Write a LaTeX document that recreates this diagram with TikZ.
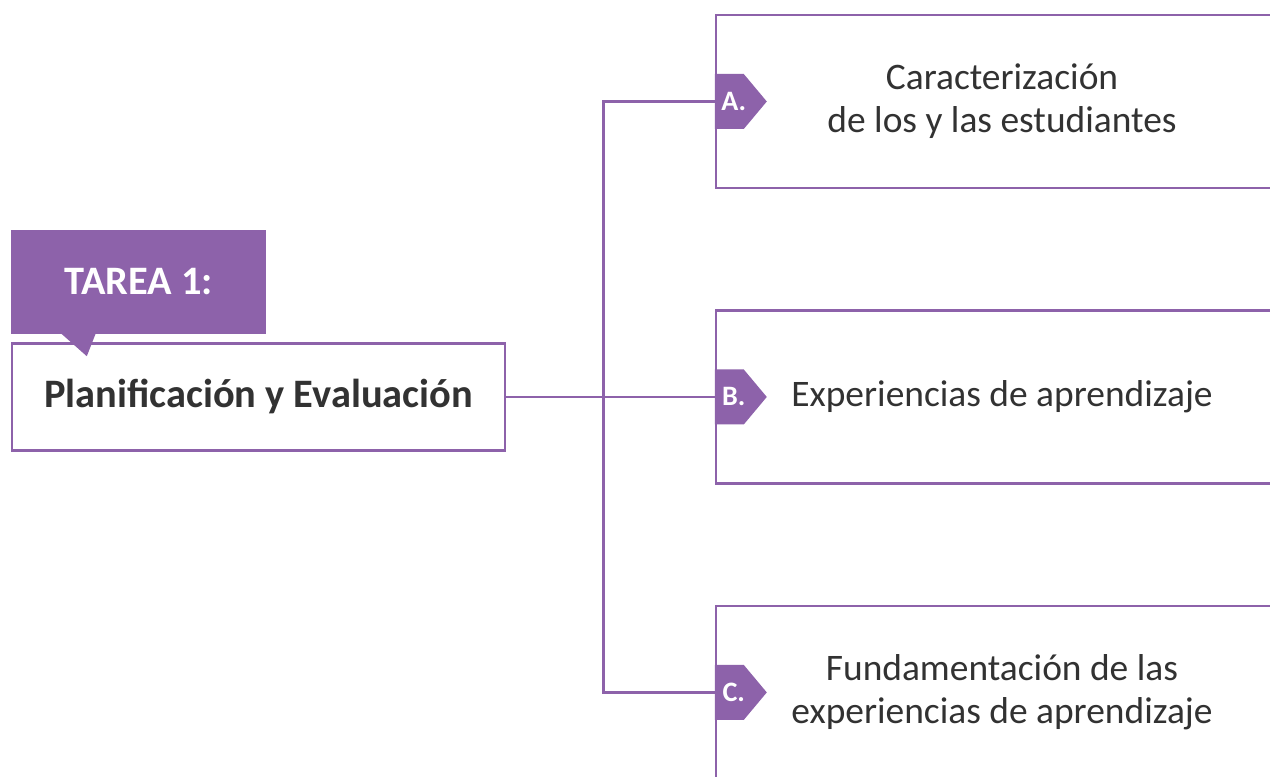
\documentclass[tikz,border=0pt]{standalone}
\usepackage{fontspec}
\setmainfont{Carlito}
\usetikzlibrary{positioning}
\definecolor{lila}{RGB}{141,98,170}
\definecolor{texto}{RGB}{50,50,50}

\begin{document}
\begin{tikzpicture}[
		linea/.style={draw=lila, line width=1.4pt},
		caja/.style={linea, fill=white, minimum width=11.44cm, minimum height=3.46cm, align=center, text=texto, font=\fontsize{21.3}{24.5}\selectfont},
		marca/.style={text=white, font=\bfseries\fontsize{16}{18}\selectfont, inner sep=0pt}
	]
	\useasboundingbox (0,0) rectangle (25.4,15.52);
	\clip (0,0) rectangle (25.4,15.52);
	\node[caja] (cajaA) at (20.04,13.49) {Caracterización\\de los y las estudiantes};
	\node[caja, below=2.4cm of cajaA] (cajaB) {Experiencias de aprendizaje};
	\node[caja, below=2.4cm of cajaB] (cajaC) {Fundamentación de las\\experiencias de aprendizaje};
	\node[linea, fill=white, minimum width=9.86cm, minimum height=2.14cm, text=texto, font=\bfseries\fontsize{23}{26}\selectfont, left=4.17cm of cajaB] (plan) {Planificación y Evaluación};
	\node[fill=lila, minimum width=5.1cm, minimum height=2.08cm, text=white, font=\bfseries\fontsize{23}{26}\selectfont, above=0.16cm of plan.north west, anchor=south west] (tarea) {TAREA 1:};
	\fill[lila] ([xshift=1.0cm,yshift=0.02cm]tarea.south west) 
		-- ([xshift=1.7cm,yshift=0.02cm]tarea.south west) 
		-- ([xshift=1.52cm,yshift=-0.44cm]tarea.south west) -- cycle;
	\coordinate[right=1.94cm of plan.east] (nudo);
	\draw[linea] (plan.east) -- (cajaB.west);
	\draw[linea] (cajaA.west) -| (nudo) |- (cajaC.west);
	\foreach \c/\l in {A/A., B/B., C/C.}{
		\fill[lila] ([yshift=0.55cm]caja\c.west) -- ++(0.58,0) -- ++(0.46,-0.55) -- ++(-0.46,-0.55) -- ++(-0.58,0) -- cycle;
		\node[marca] (m\c) at ([xshift=0.38cm]caja\c.west) {\l};
	}
\end{tikzpicture}
\end{document}
